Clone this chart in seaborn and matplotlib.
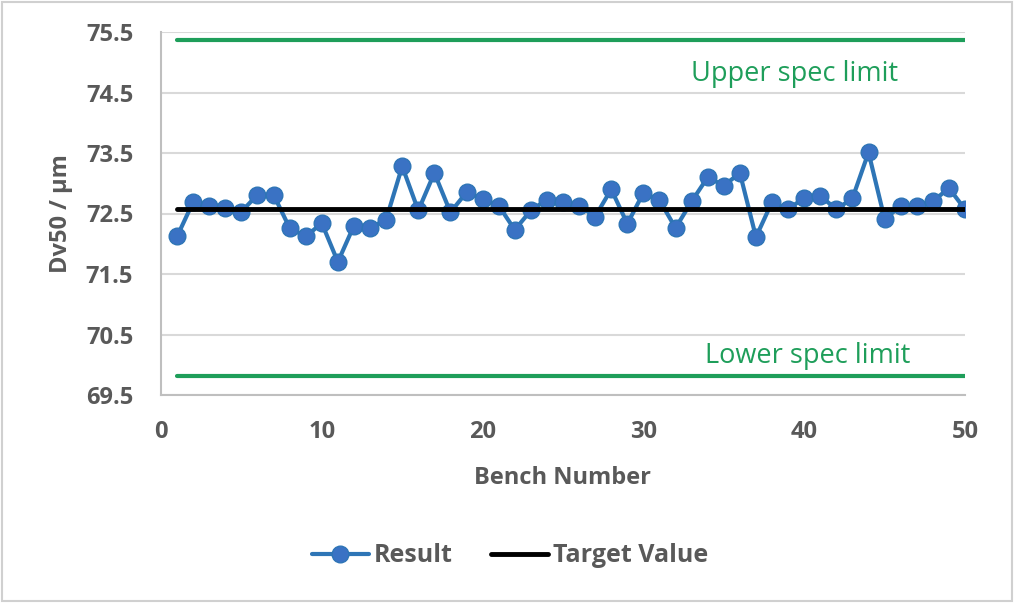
import numpy as np
import pandas as pd
import matplotlib
matplotlib.use("Agg")
import matplotlib.pyplot as plt
import seaborn as sns

bench = list(range(1, 51))
result = [72.12, 72.69, 72.62, 72.59, 72.53, 72.81, 72.81, 72.26, 72.12, 72.34,
          71.70, 72.30, 72.26, 72.40, 73.28, 72.55, 73.17, 72.52, 72.85, 72.74,
          72.63, 72.23, 72.55, 72.73, 72.69, 72.63, 72.45, 72.90, 72.33, 72.84,
          72.72, 72.26, 72.70, 73.10, 72.96, 73.17, 72.11, 72.69, 72.57, 72.76,
          72.79, 72.57, 72.75, 73.51, 72.41, 72.62, 72.62, 72.70, 72.92, 72.57]
target_value = 72.57
upper_spec = 75.36
lower_spec = 69.81
y_ticks = [69.5, 70.5, 71.5, 72.5, 73.5, 74.5, 75.5]
x_ticks = [0, 10, 20, 30, 40, 50]

sns.set_theme(style="white")
plt.rcParams['font.family'] = ['Open Sans', 'DejaVu Sans']

df = pd.DataFrame({"Bench": bench, "Result": result,
                   "Target": [target_value] * len(bench),
                   "USL": [upper_spec] * len(bench),
                   "LSL": [lower_spec] * len(bench)})

fig = plt.figure(figsize=(10.14, 6.03), dpi=100)
ax = fig.add_axes([161 / 1014, 1 - 395 / 603, (965 - 161) / 1014, (395 - 32) / 603])

green = "#1E9E5A"
gray = "#595959"

sns.lineplot(data=df, x="Bench", y="USL", ax=ax, color=green, lw=3, zorder=2)
sns.lineplot(data=df, x="Bench", y="LSL", ax=ax, color=green, lw=3, zorder=2)
sns.lineplot(data=df, x="Bench", y="Result", ax=ax, color="#2E75B6", lw=3,
             marker="o", markersize=12, markerfacecolor="#3A72C4",
             markeredgecolor="#2E75B6", markeredgewidth=1, zorder=3, label="Result")
sns.lineplot(data=df, x="Bench", y="Target", ax=ax, color="black", lw=3.5,
             zorder=4, label="Target Value")

ax.set_xlim(0, 50)
ax.set_ylim(69.5, 75.5)
ax.set_yticks(y_ticks)
ax.set_xticks(x_ticks)
ax.set_yticklabels([f"{v:.1f}" for v in y_ticks])
ax.tick_params(axis="y", length=0, labelsize=17, labelcolor=gray, pad=20)
ax.tick_params(axis="x", length=0, labelsize=17, labelcolor=gray, pad=18)
for lbl in ax.get_xticklabels() + ax.get_yticklabels():
    lbl.set_fontweight("bold")
ax.grid(axis="y", color="#D9D9D9", lw=1.5)
ax.grid(axis="x", visible=False)
for s in ["top", "right"]:
    ax.spines[s].set_visible(False)
for s in ["left", "bottom"]:
    ax.spines[s].set_color("#BFBFBF")
    ax.spines[s].set_linewidth(1.5)

ax.set_xlabel("Bench Number", fontsize=17, fontweight="bold", color=gray, labelpad=16)
ax.set_ylabel("Dv50 / µm", fontsize=17, fontweight="bold", color=gray, labelpad=9)

ax.text(39.4, 74.80, "Upper spec limit", color=green, fontsize=19.5, ha="center", va="center")
ax.text(40.2, 70.15, "Lower spec limit", color=green, fontsize=19.5, ha="center", va="center")

leg = ax.legend(loc="center", bbox_to_anchor=((510 - 161) / 804, (395 - 556) / 363), ncol=2,
                frameon=False, fontsize=18, handlelength=2.3, columnspacing=1.5,
                handletextpad=0.2)
for t in leg.get_texts():
    t.set_color(gray)
    t.set_fontweight("bold")

fig.patches.append(plt.Rectangle((0.002, 0.003), 0.996, 0.994, transform=fig.transFigure,
                                 fill=False, edgecolor="#D0D0D0", lw=1.5))

fig.savefig("out.png", dpi=100)
